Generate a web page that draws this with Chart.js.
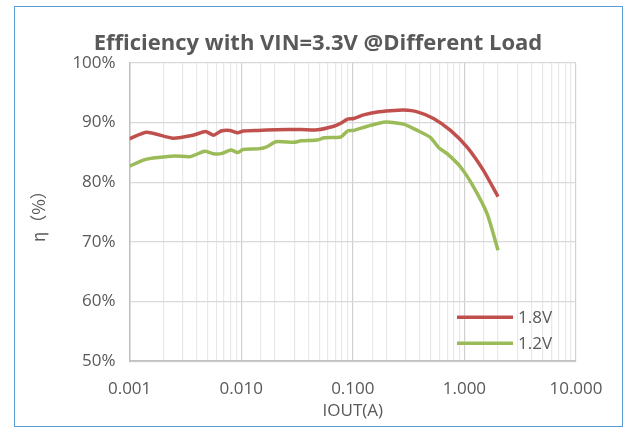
<!DOCTYPE html>
<html>
<head>
<meta charset="utf-8">
<script src="https://cdn.jsdelivr.net/npm/chart.js@4"></script>
<style>
  html, body { margin: 0; padding: 0; background: #fff; }
  #wrap { position: relative; width: 628px; height: 429px; }
  #frame { position: absolute; left: 14px; top: 6px; width: 607px; height: 419px; border: 1.5px solid #5b9bd5; pointer-events: none; }
  canvas { position: absolute; left: 0; top: 0; }
</style>
</head>
<body>
<div id="wrap">
  <canvas id="effChart" width="628" height="429"></canvas>
  <div id="frame"></div>
</div>
<script>
// ===== Data =====
const chartTitle = 'Efficiency with VIN=3.3V @Different Load';
const seriesNames = ["1.8V", "1.2V"];

const iout18 = [0.001, 0.00142, 0.00245, 0.0037, 0.0048, 0.00566, 0.0066, 0.0079, 0.0093, 0.0104,
                0.0141, 0.0205, 0.0344, 0.0484, 0.0677, 0.078, 0.0897, 0.102, 0.125, 0.166,
                0.218, 0.285, 0.378, 0.529, 0.75, 1.057, 1.48, 2.0];
const eff18  = [87.3, 88.4, 87.4, 87.9, 88.5, 87.9, 88.6, 88.7, 88.3, 88.6,
                88.7, 88.8, 88.85, 88.8, 89.4, 89.9, 90.6, 90.7, 91.3, 91.8,
                92.0, 92.1, 91.8, 90.7, 88.7, 85.9, 82.0, 77.6];

const iout12 = [0.001, 0.00137, 0.0018, 0.00254, 0.0035, 0.0047, 0.0056, 0.0066, 0.0081, 0.0093,
                0.0104, 0.0141, 0.0167, 0.0205, 0.0298, 0.0344, 0.0484, 0.0555, 0.078, 0.0897,
                0.102, 0.135, 0.197, 0.285, 0.378, 0.497, 0.589, 0.70, 0.92, 1.21, 1.6, 2.0];
const eff12  = [82.7, 83.8, 84.15, 84.4, 84.3, 85.2, 84.8, 84.8, 85.4, 85.0,
                85.5, 85.6, 85.9, 86.8, 86.7, 86.95, 87.1, 87.45, 87.6, 88.6,
                88.7, 89.4, 90.1, 89.75, 88.7, 87.5, 85.8, 84.8, 82.6, 79.2, 74.7, 68.6];

const yTicks = [50, 60, 70, 80, 90, 100];
const colors = ["#c0504d", "#9bbb59"];

const toPoints = (xs, ys) => xs.map((x, i) => ({ x: x, y: ys[i] }));
const isDecade = (v) => Math.abs(Math.log10(v) - Math.round(Math.log10(v))) < 1e-6;

// ===== Title centred on the frame, legend inside the plot =====
const decorations = {
    id: 'decorations',
    afterDraw(chart) {
        const { ctx, chartArea } = chart;
        ctx.save();
        ctx.fillStyle = '#595959';
        ctx.font = "bold 22px 'Open Sans'";
        ctx.textAlign = 'center';
        ctx.textBaseline = 'alphabetic';
        ctx.fillText(chartTitle, 318, 50);

        ctx.font = "17px 'Open Sans'";
        ctx.textAlign = 'left';
        ctx.textBaseline = 'middle';
        chart.data.datasets.forEach((ds, i) => {
            const y = chartArea.bottom - 44 + i * 26;
            ctx.strokeStyle = ds.borderColor;
            ctx.lineWidth = 3.5;
            ctx.beginPath();
            ctx.moveTo(chartArea.right - 119, y);
            ctx.lineTo(chartArea.right - 63, y);
            ctx.stroke();
            ctx.fillText(ds.label, chartArea.right - 58, y + 1);
        });
        ctx.restore();
    }
};

new Chart(document.getElementById('effChart').getContext('2d'), {
    type: 'scatter',
    data: {
        datasets: [
            { label: seriesNames[0], data: toPoints(iout18, eff18), borderColor: colors[0], backgroundColor: colors[0], showLine: true, pointRadius: 0, borderWidth: 3.5, tension: 0.2 },
            { label: seriesNames[1], data: toPoints(iout12, eff12), borderColor: colors[1], backgroundColor: colors[1], showLine: true, pointRadius: 0, borderWidth: 3.5, tension: 0.2 }
        ]
    },
    options: {
        responsive: false,
        animation: false,
        layout: { padding: { left: 28, right: 52, top: 63, bottom: 8 } },
        plugins: {
            legend: { display: false },
            tooltip: { enabled: false },
            title: { display: false }
        },
        scales: {
            x: {
                type: 'logarithmic',
                min: 0.001,
                max: 10,
                grid: {
                    color: (c) => isDecade(c.tick.value) ? '#d0d0d0' : '#e8e8e8',
                    lineWidth: 1.2,
                    drawTicks: false
                },
                border: { color: '#bfbfbf', width: 1.5 },
                ticks: {
                    autoSkip: false,
                    maxRotation: 0,
                    padding: 18,
                    color: '#595959',
                    font: { family: "'Open Sans'", size: 17 },
                    callback: (v) => isDecade(v) ? Number(v).toFixed(3) : ''
                },
                title: {
                    display: true,
                    text: 'IOUT(A)',
                    color: '#595959',
                    font: { family: "'Open Sans'", size: 17 },
                    padding: { top: -17, bottom: 0 }
                },
                afterBuildTicks: (scale) => {
                    scale.ticks = scale.ticks.filter(t => t.value >= 0.001 && t.value <= 10);
                }
            },
            y: {
                min: 50,
                max: 100,
                afterBuildTicks: (scale) => { scale.ticks = yTicks.map(v => ({ value: v })); },
                grid: { color: '#d9d9d9', lineWidth: 1.2, drawTicks: false },
                border: { color: '#bfbfbf', width: 1.5 },
                ticks: {
                    padding: 14,
                    color: '#595959',
                    font: { family: "'Open Sans'", size: 17 },
                    callback: (v) => v + '%'
                },
                title: {
                    display: true,
                    text: 'η（%）',
                    color: '#595959',
                    font: { family: "'Noto Sans CJK SC'", size: 17 },
                    padding: { top: 0, bottom: 10 }
                }
            }
        }
    },
    plugins: [decorations]
});
</script>
</body>
</html>
